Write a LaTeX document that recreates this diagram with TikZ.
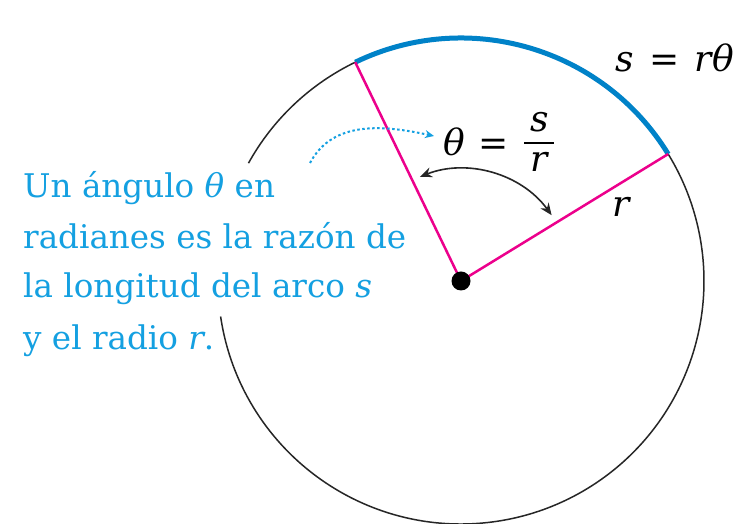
\documentclass[tikz,border=0pt]{standalone}
\usepackage{amsmath}
\usepackage{fontspec}
\setmainfont{DejaVu Serif}
\usetikzlibrary{arrows.meta,calc}
\definecolor{arcblue}{RGB}{0,130,200}
\definecolor{txtblue}{RGB}{20,160,225}
\definecolor{radpink}{RGB}{236,0,140}
\tikzset{
  circline/.style={line width=1.5pt,black!85},
  arcline/.style={line width=5pt,arcblue},
  radline/.style={line width=2.5pt,radpink},
  anglearrow/.style={line width=1.6pt,black!85,{Stealth[length=12pt,width=10pt]}-{Stealth[length=12pt,width=10pt]}},
  hintarrow/.style={line width=2pt,txtblue,dash pattern=on 2.5pt off 2.5pt,-{Stealth[length=9pt,width=8pt]}},
  bluetext/.style={txtblue,anchor=base west,inner sep=0pt,font=\rmfamily\fontsize{32.6}{50}\selectfont},
  mathlabel/.style={black,inner sep=0pt,font=\rmfamily\fontsize{36}{48}\selectfont}
}
\begin{document}
\begin{tikzpicture}[x=1pt,y=1pt]
\useasboundingbox (0,0) rectangle (737,524);
\fill[white] (0,0) rectangle (737,524);
\def\R{243}
\coordinate (O) at (461,243);
\coordinate (A) at ($(O)+(115.8:\R)$);
\coordinate (B) at ($(O)+(31.5:\R)$);
% black circle parts
\draw[circline] (A) arc[start angle=115.8,end angle=151,radius=\R];
\draw[circline] ($(O)+(188.4:\R)$) arc[start angle=188.4,end angle=391.5,radius=\R];
% blue arc s
\draw[arcline] (B) arc[start angle=31.5,end angle=115.8,radius=\R];
% radii
\draw[radline] (O) -- (A);
\draw[radline] (O) -- (B);
\node[circle,fill=black,minimum size=19pt,inner sep=0pt] (dot) at (O) {};
% angle arrow
\draw[anglearrow] ($(O)+(36:112)$) arc[start angle=36,end angle=111.5,radius=112];
% dotted hint arrow
\coordinate (h1) at (310,361);
\coordinate (h2) at (434,388);
\draw[hintarrow] (h1) to[out=62,in=168] (h2);
% labels
\node[mathlabel,anchor=base west] (theta) at (443,368) {\textit{θ}\hspace{14pt}=\hspace{14pt}\raisebox{6.8pt}{$\genfrac{}{}{2.6pt}{0}{\makebox[30pt]{\textit{s}\rule[-2pt]{0pt}{0pt}}}{\textit{r}}$}};
\node[mathlabel,anchor=base west] (sr) at (615,452) {\textit{s}\hspace{16pt}=\hspace{15pt}\textit{rθ}};
\node[mathlabel,anchor=base west] (rl) at (612,307) {\textit{r}};
% blue text
\node[bluetext] (t1) at (23,326) {Un ángulo \textit{θ} en};
\node[bluetext] (t2) at (23,275.5) {radianes es la razón de};
\node[bluetext] (t3) at (23,226) {la longitud del arco \textit{s}};
\node[bluetext] (t4) at (23,174) {y el radio \textit{r}.};
\end{tikzpicture}
\end{document}
